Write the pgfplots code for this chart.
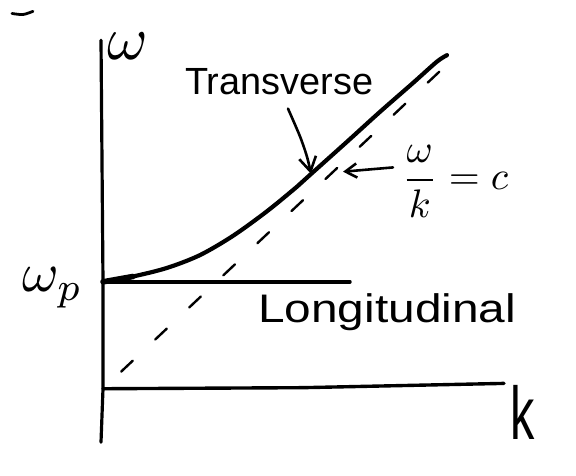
\documentclass[border=0pt]{standalone}
\usepackage{amsmath}
\usepackage{graphicx}
\usepackage{pgfplots}
\pgfplotsset{compat=1.18}
\usepackage{fontspec}
\setmainfont{Liberation Sans}
\usetikzlibrary{arrows.meta}

\begin{document}
\begin{tikzpicture}
\begin{axis}[
    scale only axis,
    width=401bp, height=402bp,
    xmin=0, xmax=4.01,
    ymin=-0.50, ymax=3.26,
    axis lines=none,
    xtick=\empty, ytick=\empty,
    clip=false,
    every axis plot/.append style={black, line cap=round, line join=round},
]
% page extent (576 x 476)
\path (axis cs:-1.03,-0.813) rectangle (axis cs:4.73,3.636);

% axes, drawn by hand
\addplot[line width=3.2pt] coordinates {(-0.02,-0.50) (0,0) (0,1.0) (-0.02,3.26)};
\addplot[line width=3.4pt] coordinates {(0,0) (2.0,0.01) (4.01,0.05)};

% light line  omega = c k
\addplot[line width=2.4pt, dash pattern=on 16pt off 31pt, dash phase=22pt]
coordinates {(0,0) (3.55,3.13)};

% longitudinal branch
\addplot[line width=3.4pt] coordinates {(0,1.0) (2.47,1.0)};

% transverse branch
\addplot[line width=4.2pt, smooth] coordinates {
 (0.00,1.00) (0.30,1.05) (0.64,1.13) (0.97,1.25) (1.30,1.43)
 (1.64,1.66) (1.94,1.89) (2.07,2.00) (2.44,2.31) (2.77,2.59)
 (3.10,2.86) (3.34,3.06) (3.44,3.12)
};
\addplot[line width=5.6pt] coordinates {(0.00,1.00) (0.30,1.05)};

% arrows to the labels
\addplot[line width=2.6pt, smooth, -{Straight Barb[length=5mm,width=6mm]}]
coordinates {(1.85,2.62) (1.97,2.36) (2.04,2.17) (2.08,2.01)};
\addplot[line width=2.6pt, -{Straight Barb[length=4mm,width=5mm]}]
coordinates {(2.90,2.07) (2.40,2.03)};

% stray pen mark
\addplot[line width=2.8pt, smooth] coordinates {(-0.91,3.51) (-0.80,3.50) (-0.70,3.53)};

% labels
\node at (axis cs:0.25,3.206) {\scalebox{6.2}{$\omega$}};
\node[anchor=base east, inner sep=0pt] at (axis cs:-0.20,0.906)
  {\scalebox{5.6}{$\omega_p$}};
\node at (axis cs:4.20,-0.224)
  {\scalebox{0.65}[1]{\fontsize{75}{80}\selectfont k}};
\node[anchor=base west, inner sep=0pt] at (axis cs:0.82,2.748)
  {\fontsize{38}{42}\selectfont Transverse};
\node[anchor=base west, inner sep=0pt] at (axis cs:1.55,0.617)
  {\scalebox{1.2}[1]{\fontsize{40}{44}\selectfont Longitudinal}};
\node at (axis cs:3.52,1.94)
  {\scalebox{4.0}{$\dfrac{\omega}{k}=c$}};
\end{axis}
\end{tikzpicture}
\end{document}
